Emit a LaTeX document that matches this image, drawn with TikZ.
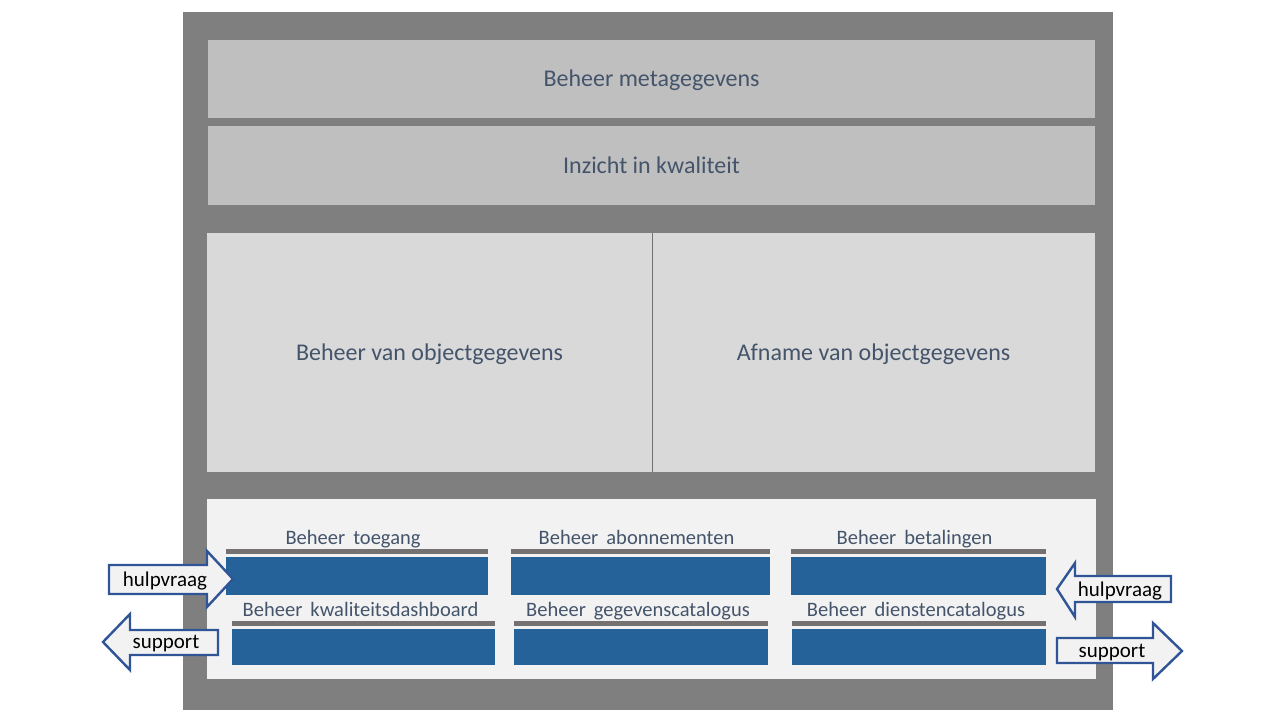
\documentclass[tikz,border=0pt]{standalone}
\usepackage{fontspec}
\setmainfont{Carlito}
\begin{document}
\begin{tikzpicture}[x=1pt,y=-1pt]
% Colors define
\definecolor{myFrame}{HTML}{7F7F7F}
\definecolor{myGrey}{HTML}{BFBFBF}
\definecolor{myLight}{HTML}{D9D9D9}
\definecolor{myWhite}{HTML}{F2F2F2}
\definecolor{myBlue}{HTML}{26629A}
\definecolor{myLine}{HTML}{767171}
\definecolor{myText}{HTML}{44546A}
\definecolor{myArrow}{HTML}{2F5597}

\tikzset{
  layer/.style={anchor=north west,inner sep=0pt,outer sep=0pt,text=myText,font=\fontsize{24}{28}\selectfont,text height=15pt,text depth=0pt},
  service/.style={anchor=base,inner sep=0pt,text=myText,font=\fontsize{20.5}{24}\selectfont},
  arrowbox/.style={draw=myArrow,fill=myWhite,line width=2.4pt,line join=miter},
  arrowtext/.style={inner sep=0pt,font=\fontsize{21}{24}\selectfont,text height=15pt,text depth=0pt}
}

\useasboundingbox (0,0) rectangle (1280,720);

% Outer frame
\fill[myFrame] (183,12) rectangle (1113,710);

% Top layers
\node[layer,fill=myGrey,minimum width=887pt,minimum height=78pt] (meta) at (208,40) {Beheer metagegevens};
\node[layer,fill=myGrey,minimum width=887pt,minimum height=79pt] (kwal) at (208,126) {Inzicht in kwaliteit};

% Object data layers
\node[layer,fill=myLight,minimum width=445pt,minimum height=239pt] (beheer) at (207,233) {Beheer van objectgegevens};
\node[layer,fill=myLight,minimum width=443pt,minimum height=239pt] (afname) at (652,233) {Afname van objectgegevens};
\draw[myLine,line width=0.8pt] (beheer.north east) -- (beheer.south east);

% Services area
\node[layer,fill=myWhite,minimum width=889pt,minimum height=180pt] (diensten) at (207,499) {};

% Service bars: first row
\foreach \a/\b/\name in {226/488/toegang,511/770/abonnementen,791/1046/betalingen}{
  \fill[myLine] (\a,549) rectangle (\b,554);
  \fill[myBlue] (\a,557) rectangle (\b,595);
  \node[service] (\name) at ({(\a+\b)/2-4},544) {Beheer\ \,\name};
}

% Service bars: second row
\foreach \a/\b/\name in {232/495/kwaliteitsdashboard,514/768/gegevenscatalogus,792/1046/dienstencatalogus}{
  \fill[myLine] (\a,621) rectangle (\b,626);
  \fill[myBlue] (\a,629) rectangle (\b,665);
  \node[service] (\name) at ({(\a+\b)/2-3},616) {Beheer\ \,\name};
}

% Arrows on the left
\draw[arrowbox] (109,565) -- (207,565) -- (207,551) -- (233,579) -- (207,607) -- (207,594) -- (109,594) -- cycle;
\node[arrowtext] (hulpL) at (165,579) {hulpvraag};
\draw[arrowbox] (103,642) -- (130,614) -- (130,630) -- (218,630) -- (218,655) -- (130,655) -- (130,670) -- cycle;
\node[arrowtext] (supportL) at (166,641) {support};

% Arrows on the right
\draw[arrowbox] (1057,589) -- (1075,563) -- (1075,576) -- (1171,576) -- (1171,602) -- (1075,602) -- (1075,617) -- cycle;
\node[arrowtext] (hulpR) at (1120,589) {hulpvraag};
\draw[arrowbox] (1057,638) -- (1153,638) -- (1153,623) -- (1182,651) -- (1153,679) -- (1153,663) -- (1057,663) -- cycle;
\node[arrowtext] (supportR) at (1112,650) {support};
\end{tikzpicture}
\end{document}
